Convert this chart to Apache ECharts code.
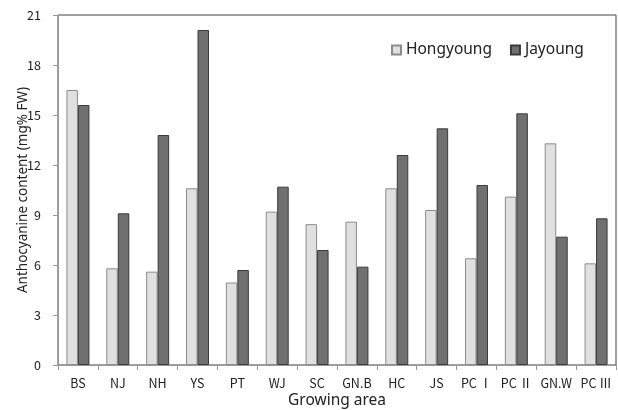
<!DOCTYPE html>
<html><head><meta charset="utf-8">
<script src="https://cdn.jsdelivr.net/npm/echarts@6/dist/echarts.min.js"></script>
<style>html,body{margin:0;padding:0;background:#fff}#c{width:618px;height:410px}</style>
</head><body><div id="c"></div>
<script>
var categories = ['BS','NJ','NH','YS','PT','WJ','SC','GN.B','HC','JS','PC Ⅰ','PC Ⅱ','GN.W','PC Ⅲ'];
var hongyoung = [16.5,5.8,5.6,10.6,4.95,9.2,8.45,8.6,10.6,9.3,6.4,10.1,13.3,6.1];
var jayoung = [15.6,9.1,13.8,20.1,5.7,10.7,6.9,5.9,12.6,14.2,10.8,15.1,7.7,8.8];
var yTicks = {min:0, max:21, interval:3};
var cjk = '"Noto Sans CJK KR","Noto Sans",sans-serif';
var latin = '"Noto Sans","Open Sans",sans-serif';
var chart = echarts.init(document.getElementById('c'));
chart.setOption({
  animation:false,
  textStyle:{fontFamily:cjk},
  grid:{left:58,right:2,top:15,bottom:45,containLabel:false,outerBoundsMode:'none',
    show:true,borderColor:'#404040',borderWidth:1,backgroundColor:'transparent'},
  legend:{left:391,top:42,padding:0,itemWidth:9,itemHeight:9,itemGap:18,
    textStyle:{fontSize:15.5,color:'#222',fontFamily:latin},
    data:[{name:'Hongyoung',icon:'rect'},{name:'Jayoung',icon:'rect'}]},
  xAxis:{type:'category',data:categories,
    name:'Growing area',nameLocation:'middle',nameGap:28,nameMoveOverlap:false,
    nameTextStyle:{fontSize:15.5,color:'#222',fontFamily:latin},
    axisLine:{lineStyle:{color:'#999'}},
    axisTick:{show:true,length:5,lineStyle:{color:'#999'}},
    axisLabel:{fontSize:12.5,color:'#222',margin:12,interval:0,fontFamily:cjk}},
  yAxis:{type:'value',min:yTicks.min,max:yTicks.max,interval:yTicks.interval,
    name:'Anthocyanine content (mg% FW)',nameLocation:'middle',nameGap:28,nameMoveOverlap:false,
    nameTextStyle:{fontSize:13.5,color:'#222',fontFamily:latin},
    axisLine:{show:true,lineStyle:{color:'#999'}},
    axisTick:{show:true,length:5,lineStyle:{color:'#999'}},
    splitLine:{show:false},
    axisLabel:{fontSize:12.5,color:'#222',margin:17,fontFamily:cjk}},
  series:[
    {name:'Hongyoung',type:'bar',data:hongyoung,barWidth:11.5,barGap:'0%',
     itemStyle:{color:'#e0e0e0',borderColor:'#8c8c8c',borderWidth:1}},
    {name:'Jayoung',type:'bar',data:jayoung,barWidth:11.5,barGap:'0%',
     itemStyle:{color:'#707070',borderColor:'#3a3a3a',borderWidth:1}}
  ]
});
</script></body></html>
